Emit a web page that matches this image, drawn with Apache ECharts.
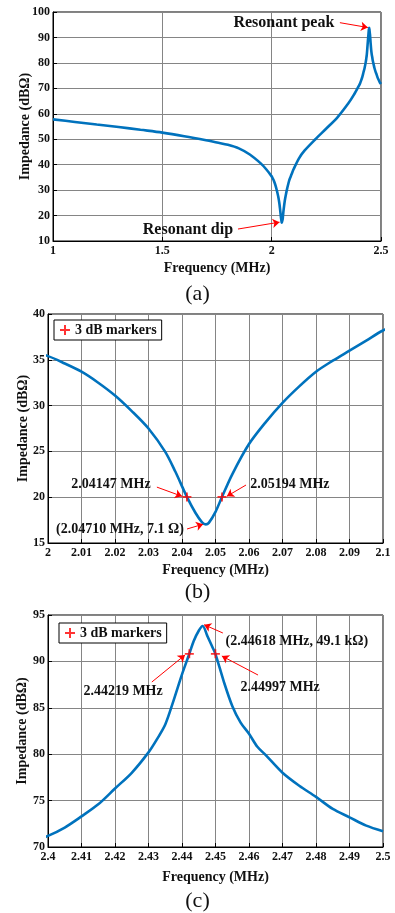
<!DOCTYPE html>
<html>
<head>
<meta charset="utf-8">
<script src="https://cdn.jsdelivr.net/npm/echarts@6/dist/echarts.min.js"></script>
<style>
  html, body { margin: 0; padding: 0; background: #fff; }
  #chart { width: 395px; height: 913px; }
</style>
</head>
<body>
<div id="chart"></div>
<script>
// impedance curve, one set of points shared by the three panels
const freqMHz = [
  1.00, 1.10, 1.20, 1.30, 1.40, 1.50, 1.60, 1.70, 1.75, 1.80, 1.85, 1.90, 1.95, 1.975,
  2.000, 2.005, 2.010, 2.015, 2.020, 2.025, 2.030, 2.035, 2.038, 2.04147, 2.044, 2.046,
  2.0471, 2.048, 2.050, 2.05194, 2.055, 2.060, 2.065, 2.070, 2.075, 2.080, 2.085, 2.090,
  2.095, 2.100, 2.125, 2.15, 2.20, 2.25, 2.30, 2.35, 2.375,
  2.400, 2.405, 2.410, 2.415, 2.420, 2.425, 2.430, 2.4325, 2.435, 2.4375, 2.440, 2.44219,
  2.4435, 2.445, 2.44618, 2.4475, 2.449, 2.44997, 2.4525, 2.455, 2.4575, 2.460, 2.4625,
  2.465, 2.470, 2.475, 2.480, 2.485, 2.490, 2.495, 2.500
];
const impedanceDb = [
  57.8, 56.8, 55.8, 54.8, 53.7, 52.6, 51.2, 49.6, 48.7, 47.8, 46.4, 44.0, 40.5, 38.2,
  35.4, 34.6, 33.7, 32.5, 31.1, 29.4, 27.5, 24.95, 22.8, 20.03, 18.3, 17.25,
  17.03, 17.2, 18.4, 20.03, 22.5, 25.8, 28.2, 30.3, 32.1, 33.7, 34.9, 36.0,
  37.1, 38.2, 42.5, 45.5, 50.0, 54.2, 58.5, 64.0, 67.3,
  71.2, 72.1, 73.3, 74.6, 76.3, 78.0, 80.2, 81.6, 83.2, 85.8, 88.6, 90.82,
  92.2, 93.3, 93.82, 92.8, 91.6, 90.82, 87.8, 85.2, 83.4, 82.2, 80.8,
  79.9, 78.0, 76.6, 75.4, 74.1, 73.2, 72.3, 71.7
];

// -3 dB points (panel b: dip, panel c: peak)
const dipMarkFreq = [2.04147, 2.05194];
const dipMarkDb = [20.03, 20.03];
const peakMarkFreq = [2.44219, 2.44997];
const peakMarkDb = [90.82, 90.82];

// axis ticks [min, max, interval]
const xTicksA = [1, 2.5, 0.5];
const yTicksA = [10, 100, 10];
const xTicksB = [2, 2.1, 0.01];
const yTicksB = [15, 40, 5];
const xTicksC = [2.4, 2.5, 0.01];
const yTicksC = [70, 95, 5];

const serif = "'Liberation Serif', 'DejaVu Serif', serif";
const plus = 'path://M4,0H6V4H10V6H6V10H4V6H0V4H4Z';

const curve = freqMHz.map((f, i) => [f, impedanceDb[i]]);

function xAxis(t, idx, gap) {
  return {
    type: 'value', gridIndex: idx, min: t[0], max: t[1], interval: t[2],
    name: 'Frequency (MHz)', nameLocation: 'middle', nameGap: gap, nameMoveOverlap: false,
    nameTextStyle: { fontFamily: serif, fontWeight: 'bold', fontSize: 14, color: '#111' },
    axisLine: { show: true, lineStyle: { color: '#000', width: 1 } },
    axisTick: { show: true, inside: true, length: 4, lineStyle: { color: '#000' } },
    axisLabel: { fontFamily: serif, fontWeight: 'bold', fontSize: 12, color: '#111', margin: 4,
                 showMinLabel: true, showMaxLabel: true },
    splitLine: { show: true, lineStyle: { color: '#858585', width: 1 } }
  };
}
function yAxis(t, idx, gap) {
  return {
    type: 'value', gridIndex: idx, min: t[0], max: t[1], interval: t[2],
    name: 'Impedance (dB\u03A9)', nameLocation: 'middle', nameGap: gap, nameMoveOverlap: false,
    nameTextStyle: { fontFamily: serif, fontWeight: 'bold', fontSize: 14, color: '#111' },
    axisLine: { show: true, lineStyle: { color: '#000', width: 1 } },
    axisTick: { show: true, inside: true, length: 4, lineStyle: { color: '#000' } },
    axisLabel: { fontFamily: serif, fontWeight: 'bold', fontSize: 12, color: '#111', margin: 3 },
    splitLine: { show: true, lineStyle: { color: '#858585', width: 1 } }
  };
}

const noteLabel = {
  show: true, position: 'inside', align: 'center', verticalAlign: 'middle',
  fontFamily: serif, fontWeight: 'bold', fontSize: 14, color: '#111'
};
function note(text, x, y, size) {
  return { coord: [x, y], symbolSize: 0, value: 0,
           label: Object.assign({}, noteLabel, { formatter: text, fontSize: size || 14 }) };
}
function arrow(x1, y1, x2, y2) {
  return [{ coord: [x1, y1] }, { coord: [x2, y2] }];
}
const arrowStyle = {
  silent: true, symbol: ['none', 'arrow'], symbolSize: 7,
  label: { show: false },
  lineStyle: { color: '#ff0000', width: 1, type: 'solid' },
  itemStyle: { color: '#ff0000' },
  emphasis: { disabled: true }
};

function curveSeries(idx) {
  return {
    type: 'line', xAxisIndex: idx, yAxisIndex: idx, data: curve,
    showSymbol: false, smooth: 0.3, clip: true,
    lineStyle: { color: '#0072BD', width: 2.6 }, silent: true
  };
}

const chart = echarts.init(document.getElementById('chart'), null, { renderer: 'canvas' });

const legendBase = {
  data: ['3 dB markers'], orient: 'horizontal',
  icon: plus, itemWidth: 10, itemHeight: 10, selectedMode: false,
  backgroundColor: '#fff', borderColor: '#000', borderWidth: 1, padding: [3, 5, 3, 6],
  textStyle: { fontFamily: serif, fontWeight: 'bold', fontSize: 14, color: '#111' }
};

const option = {
  backgroundColor: '#fff',
  animation: false,
  grid: [
    { left: 53, top: 12, width: 328, height: 229, show: true, borderColor: '#000', borderWidth: 1, backgroundColor: '#fff' },
    { left: 48, top: 314, width: 335, height: 229, show: true, borderColor: '#000', borderWidth: 1, backgroundColor: '#fff' },
    { left: 48, top: 615, width: 335, height: 232, show: true, borderColor: '#000', borderWidth: 1, backgroundColor: '#fff' }
  ],
  xAxis: [xAxis(xTicksA, 0, 20), xAxis(xTicksB, 1, 20), xAxis(xTicksC, 2, 23)],
  yAxis: [yAxis(yTicksA, 0, 21), yAxis(yTicksB, 1, 18), yAxis(yTicksC, 2, 19)],
  legend: [
    Object.assign({}, legendBase, { left: 54, top: 320 }),
    Object.assign({}, legendBase, { left: 59, top: 623 })
  ],
  graphic: [
    { type: 'text', left: 'center', top: 283, style: { text: '(a)', font: "22px " + serif, fill: '#111' } },
    { type: 'text', left: 'center', top: 581, style: { text: '(b)', font: "22px " + serif, fill: '#111' } },
    { type: 'text', left: 'center', top: 890, style: { text: '(c)', font: "22px " + serif, fill: '#111' } }
  ],
  series: [
    Object.assign(curveSeries(0), {
      markPoint: { silent: true, data: [
        note('Resonant peak', 2.056, 95.8, 16),
        note('Resonant dip', 1.617, 14.3, 16)
      ] },
      markLine: Object.assign({}, arrowStyle, { data: [
        arrow(2.312, 95.8, 2.440, 93.9),
        arrow(1.846, 14.7, 2.036, 17.4)
      ] })
    }),
    curveSeries(1),
    curveSeries(2),
    {
      name: '3 dB markers', type: 'scatter', xAxisIndex: 1, yAxisIndex: 1,
      data: dipMarkFreq.map((f, i) => [f, dipMarkDb[i]]),
      symbol: plus, symbolSize: 9, itemStyle: { color: '#ff0000' }, silent: true, z: 5,
      markPoint: { silent: true, data: [
        note('2.04147 MHz', 2.0188, 21.44),
        note('2.05194 MHz', 2.0722, 21.44),
        note('(2.04710 MHz, 7.1 \u03A9)', 2.0215, 16.53)
      ] },
      markLine: Object.assign({}, arrowStyle, { data: [
        arrow(2.0325, 21.1, 2.0400, 20.1),
        arrow(2.0591, 21.33, 2.0534, 20.1),
        arrow(2.0415, 16.53, 2.0463, 17.05)
      ] })
    },
    {
      name: '3 dB markers', type: 'scatter', xAxisIndex: 2, yAxisIndex: 2,
      data: peakMarkFreq.map((f, i) => [f, peakMarkDb[i]]),
      symbol: plus, symbolSize: 9, itemStyle: { color: '#ff0000' }, silent: true, z: 5,
      markPoint: { silent: true, data: [
        note('(2.44618 MHz, 49.1 k\u03A9)', 2.4743, 92.2),
        note('2.44219 MHz', 2.4224, 86.81),
        note('2.44997 MHz', 2.4693, 87.24)
      ] },
      markLine: Object.assign({}, arrowStyle, { data: [
        arrow(2.4310, 87.78, 2.4409, 90.69),
        arrow(2.4627, 88.53, 2.4519, 90.58),
        arrow(2.4522, 93.06, 2.4466, 93.95)
      ] })
    }
  ]
};

chart.setOption(option);
</script>
</body>
</html>
